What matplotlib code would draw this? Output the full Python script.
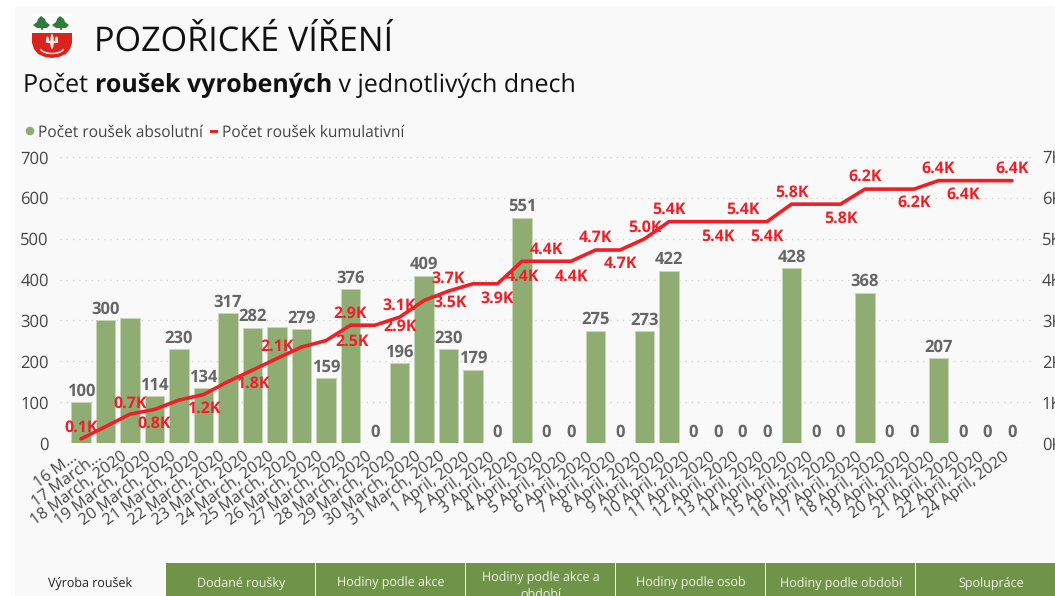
import numpy as np
import matplotlib
matplotlib.use('Agg')
import matplotlib.pyplot as plt
from matplotlib.patches import Rectangle, Polygon, Circle, Ellipse
from matplotlib.transforms import ScaledTranslation

plt.rcParams['font.family'] = ['Open Sans', 'DejaVu Sans']
plt.rcParams['text.hinting'] = 'no_hinting'

days = ['16 M...', '17 March...', '18 March, 2020', '19 March, 2020', '20 March, 2020',
        '21 March, 2020', '22 March, 2020', '23 March, 2020', '24 March, 2020',
        '25 March, 2020', '26 March, 2020', '27 March, 2020', '28 March, 2020',
        '29 March, 2020', '30 March, 2020', '31 March, 2020', '1 April, 2020',
        '2 April, 2020', '3 April, 2020', '4 April, 2020', '5 April, 2020',
        '6 April, 2020', '7 April, 2020', '8 April, 2020', '9 April, 2020',
        '10 April, 2020', '11 April, 2020', '12 April, 2020', '13 April, 2020',
        '14 April, 2020', '15 April, 2020', '16 April, 2020', '17 April, 2020',
        '18 April, 2020', '19 April, 2020', '20 April, 2020', '21 April, 2020',
        '22 April, 2020', '24 April, 2020']
absolute = [100, 300, 307, 114, 230, 134, 317, 282, 285, 279, 159, 376, 0, 196, 409,
            230, 179, 0, 551, 0, 0, 275, 0, 273, 422, 0, 0, 0, 0, 428, 0, 0, 368,
            0, 0, 207, 0, 0, 0]
cumulative = [100, 400, 707, 821, 1051, 1185, 1502, 1784, 2069, 2348, 2507, 2883, 2883,
              3079, 3488, 3718, 3897, 3897, 4448, 4448, 4448, 4723, 4723, 4996, 5418,
              5418, 5418, 5418, 5418, 5846, 5846, 5846, 6214, 6214, 6214, 6421, 6421,
              6421, 6421]
unlabelled_bars = [2, 8]
tabs = ['Dodané roušky', 'Hodiny podle akce', 'Hodiny podle akce a\nobdobí',
        'Hodiny podle osob', 'Hodiny podle období', 'Spolupráce']

# which point each red label belongs to, and its nudge in pixels
red_labels = [(0, '0.1K', 0, 11), (2, '0.7K', 0, 10), (3, '0.8K', 0, -14), (5, '1.2K', 0, -14),
              (7, '1.8K', 0, -14), (8, '2.1K', 0, 12), (10, '2.5K', 26, -1), (11, '2.9K', 0, 12),
              (12, '2.9K', 25, -1), (13, '3.1K', 0, 12), (14, '3.5K', 26, -2), (15, '3.7K', 0, 12),
              (17, '3.9K', 0, -15), (18, '4.4K', 0, -15), (19, '4.4K', 0, 12), (20, '4.4K', 0, -15),
              (21, '4.7K', 0, 12), (22, '4.7K', 0, -14), (23, '5.0K', 0, 11), (24, '5.4K', 0, 12),
              (26, '5.4K', 0, -15), (27, '5.4K', 0, 12), (28, '5.4K', 0, -15), (29, '5.8K', 0, 12),
              (31, '5.8K', 0, -14), (32, '6.2K', 0, 12), (34, '6.2K', 0, -14), (35, '6.4K', 0, 12),
              (36, '6.4K', 0, -14), (38, '6.4K', 0, 12)]

W, H = 1055, 596
GREEN = '#8FAD72'
RED = '#EE2027'

fig = plt.figure(figsize=(W / 100, H / 100), dpi=100, facecolor='white')

# page furniture, in pixel coordinates
bg = fig.add_axes([0, 0, 1, 1], zorder=0)
bg.set_xlim(0, W)
bg.set_ylim(H, 0)
bg.axis('off')
bg.add_patch(Rectangle((15, 6), W - 15, H - 6, color='#F9F9F9', lw=0))

# logo
bg.add_patch(Rectangle((32, 14), 40, 20, color='#FFFFFF', lw=0))
shield = [(32, 33), (72, 33), (72, 43), (70, 49), (66, 54), (59, 57), (52, 58), (45, 57),
          (38, 54), (34, 49), (32, 43)]
bg.add_patch(Polygon(shield, color='#D9241E', lw=0))
for cx in (42, 61):
    bg.add_patch(Polygon([(cx - 1, 16), (cx + 3, 19), (cx + 4, 22), (cx + 8, 25), (cx + 5, 28),
                          (cx + 1, 28), (cx + 0.7, 30), (cx - 0.7, 30), (cx - 1, 28), (cx - 5, 28),
                          (cx - 9, 25), (cx - 5, 22), (cx - 4, 19)],
                         color='#2F7D3B', lw=0))
bg.add_patch(Ellipse((52, 41.5), 3.5, 15, color='#F6ECE8', lw=0))
bg.add_patch(Ellipse((52, 42), 13, 2.5, color='#F6ECE8', lw=0))
bg.add_patch(Ellipse((47.5, 39.5), 3, 6, color='#F6ECE8', lw=0))
bg.add_patch(Ellipse((56.5, 39.5), 3, 6, color='#F6ECE8', lw=0))
theta = np.linspace(0.12 * np.pi, 0.88 * np.pi, 20)
bg.plot(52 + 12 * np.cos(theta), 47.5 + 6 * np.sin(theta), color='#F6ECE8', lw=1.1)

bg.text(94, 51, 'POZOŘICKÉ VÍŘENÍ', fontsize=24.6, color='#111111', va='baseline', ha='left')

# subtitle has a bold middle, so lay the pieces out one after the other
renderer = fig.canvas.get_renderer()
x = 23
for part, weight in [('Počet ', 'normal'), ('roušek vyrobených', 'bold'), (' v jednotlivých dnech', 'normal')]:
    t = bg.text(x, 92, part.replace(' ', '\u00a0'), fontsize=18, fontweight=weight, color='#111111', va='baseline', ha='left')
    x = bg.transData.inverted().transform(t.get_window_extent(renderer))[1][0]

# legend
bg.add_patch(Circle((30, 131), 4.3, color=GREEN, lw=0))
bg.text(38, 132.5, 'Počet roušek absolutní', fontsize=11.2, color='#444444', va='center', ha='left')
bg.add_patch(Rectangle((210, 130), 8, 2.5, color=RED, lw=0))
bg.text(222, 132.5, 'Počet roušek kumulativní', fontsize=11.2, color='#444444', va='center', ha='left')

# tabs
bg.text(90, 584, 'Výroba roušek', fontsize=9, color='#222222', va='center', ha='center')
for i, name in enumerate(tabs):
    left = 166 + 150 * i
    bg.add_patch(Rectangle((left, 563), 149, H - 563, color='#6F9447', lw=0))
    txt = bg.text(left + 75, 584, name, fontsize=9, color='#F0F4EA', va='center', ha='center',
                  linespacing=1.35, clip_on=True)
    if '\n' in name:
        txt.set_y(587)

# chart
ax = fig.add_axes([60 / W, 1 - 443 / H, 975 / W, 286 / H], zorder=1)
ax.patch.set_alpha(0)
ax.set_xlim((60 - 81) / 24.5, (1035 - 81) / 24.5)
ax.set_ylim(0, 700)
pos = np.arange(len(days))
bars = ax.bar(pos, absolute, 0.8, color=GREEN, edgecolor='#C9D6BA', linewidth=0.7, zorder=2)
for i, v in enumerate(absolute):
    if i not in unlabelled_bars:
        ax.annotate(str(v), (pos[i], v), xytext=(0, 11), textcoords='offset pixels',
                    ha='center', va='center', fontsize=12, fontweight='bold', color='#666666', zorder=5)

ax.set_yticks(np.arange(0, 701, 100))
ax.tick_params(axis='y', length=0, pad=8, labelsize=12, labelcolor='#444444')
ax.grid(axis='y', linestyle=(0, (1, 4)), color='#CFCFCF', linewidth=0.9, zorder=0)
ax.set_axisbelow(True)
ax.set_xticks(pos)
ax.set_xticklabels(days, rotation=36, ha='right', va='top', rotation_mode='anchor',
                   fontsize=11.5, color='#444444')
ax.tick_params(axis='x', length=0, pad=4)
shift = ScaledTranslation(-10 / 100, 0, fig.dpi_scale_trans)
for lab in ax.get_xticklabels():
    lab.set_transform(lab.get_transform() + shift)
for spine in ax.spines.values():
    spine.set_visible(False)

ax2 = ax.twinx()
ax2.set_zorder(3)
ax2.patch.set_alpha(0)
ax2.set_ylim(0, 7000)
ax2.set_yticks(np.arange(0, 7001, 1000))
ax2.set_yticklabels(['%dK' % v for v in range(8)])
ax2.tick_params(axis='y', length=0, pad=5, labelsize=12, labelcolor='#444444')
for spine in ax2.spines.values():
    spine.set_visible(False)
ax2.plot(pos, cumulative, color=RED, linewidth=2.6, solid_capstyle='round', zorder=4)
for i, label, dx, dy in red_labels:
    ax2.annotate(label, (pos[i], cumulative[i]), xytext=(dx, dy), textcoords='offset pixels',
                 ha='center', va='center', fontsize=11.5, fontweight='bold', color=RED, zorder=6)

fig.savefig('out.png', dpi=100)
